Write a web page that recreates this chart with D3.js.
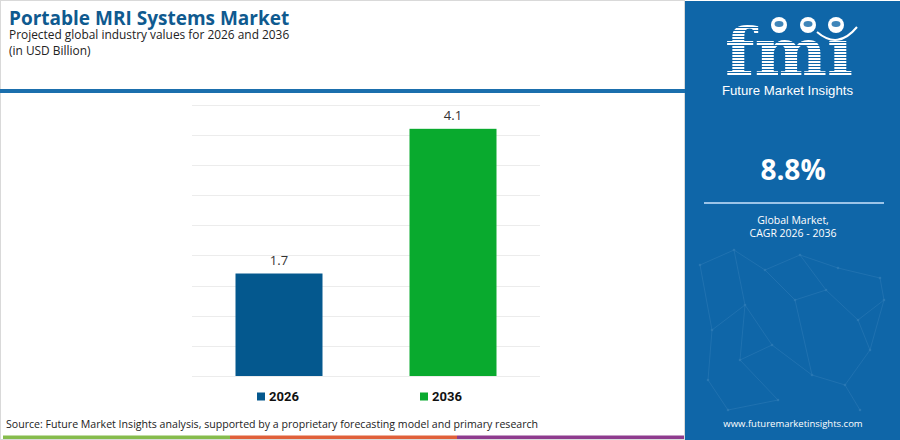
<!DOCTYPE html>
<html>
<head>
<meta charset="utf-8">
<script src="https://cdn.jsdelivr.net/npm/d3@7/dist/d3.min.js"></script>
<style>
  body { margin: 0; background: #fff; }
  svg { display: block; }
</style>
</head>
<body>
<div id="chart"></div>
<script>
// chart data
var years = ["2026", "2036"];
var values = [1.7, 4.1];
var barColors = ["#04588e", "#09aa2e"];
var yTicks = [0, 0.5, 1, 1.5, 2, 2.5, 3, 3.5, 4, 4.5];
var cagrValue = "8.8%";
var cagrLabel = ["Global Market,", "CAGR 2026 - 2036"];
var stripeColors = ["#86bc4c", "#e0603a", "#8e3b8e"];

function main()
{
    var W = 900, H = 440;
    var panel = "#0f66a8";
    var svg = d3.select("#chart").append("svg")
        .attr("width", W)
        .attr("height", H);

    //frame of the left part
    svg.append("rect").attr("x", 0.5).attr("y", 0.5).attr("width", 684).attr("height", H - 1)
        .attr("fill", "#fff").attr("stroke", "#d9d9d9");

    //title block
    svg.append("text").attr("x", 9).attr("y", 25)
        .style("font-family", "'Open Sans', sans-serif").style("font-weight", 700)
        .style("font-size", "19px").style("fill", "#0f5a8f")
        .text("Portable MRI Systems Market");
    svg.append("text").attr("x", 9).attr("y", 39)
        .style("font-family", "'Open Sans', sans-serif").style("font-size", "11.9px").style("fill", "#222")
        .text("Projected global industry values for 2026 and 2036");
    svg.append("text").attr("x", 9).attr("y", 55)
        .style("font-family", "'Open Sans', sans-serif").style("font-size", "11.9px").style("fill", "#222")
        .text("(in USD Billion)");

    //blue rule under header
    svg.append("rect").attr("x", 0).attr("y", 89).attr("width", 686).attr("height", 4).attr("fill", "#1b6fad");

    //scales
    var x = d3.scaleBand().domain(years).range([192, 540]).paddingInner(0.5).paddingOuter(0.25);
    var y = d3.scaleLinear().domain([0, 4.5]).range([376, 104.7]);

    //grid
    svg.append("g").selectAll("line").data(yTicks).enter().append("line")
        .attr("x1", 192).attr("x2", 540)
        .attr("y1", function(d) { return Math.round(y(d)) + 0.5; })
        .attr("y2", function(d) { return Math.round(y(d)) + 0.5; })
        .attr("stroke", "#ececec").attr("stroke-width", 1);

    //bars
    svg.append("g").selectAll("rect").data(values).enter().append("rect")
        .attr("x", function(d, i) { return x(years[i]); })
        .attr("y", function(d) { return y(d); })
        .attr("width", x.bandwidth())
        .attr("height", function(d) { return y(0) - y(d); })
        .attr("fill", function(d, i) { return barColors[i]; });

    //value labels
    svg.append("g").selectAll("text").data(values).enter().append("text")
        .attr("x", function(d, i) { return x(years[i]) + x.bandwidth() / 2; })
        .attr("y", function(d) { return y(d) - 9; })
        .attr("text-anchor", "middle")
        .style("font-family", "'Open Sans', sans-serif").style("font-size", "13px").style("fill", "#333")
        .text(function(d) { return d.toFixed(1); });

    //legend
    var legX = [257, 420];
    var leg = svg.append("g").selectAll("g").data(years).enter().append("g")
        .attr("transform", function(d, i) { return "translate(" + legX[i] + ",392.5)"; });
    leg.append("rect").attr("width", 8).attr("height", 8)
        .attr("fill", function(d, i) { return barColors[i]; });
    leg.append("text").attr("x", 12).attr("y", 8)
        .style("font-family", "Roboto, sans-serif").style("font-weight", 700)
        .style("font-size", "13px").style("fill", "#111")
        .text(function(d) { return d; });

    //source
    svg.append("text").attr("x", 6).attr("y", 428)
        .style("font-family", "'Open Sans', sans-serif").style("font-size", "10.6px").style("fill", "#222")
        .text("Source: Future Market Insights analysis, supported by a proprietary forecasting model and primary research");

    //bottom stripe
    svg.append("g").selectAll("rect").data(stripeColors).enter().append("rect")
        .attr("x", function(d, i) { return 3 + i * 227; })
        .attr("y", 435.5).attr("width", 227).attr("height", 3.5)
        .attr("fill", function(d) { return d; });

    //right panel
    var px = 685, pw = W - px, pc = 793;
    svg.append("rect").attr("x", px).attr("y", 1).attr("width", pw).attr("height", H - 1).attr("fill", panel);

    //faint network in the background
    var nodes = [[700,265],[734,250],[765,270],[800,255],[838,268],[880,278],[712,330],[745,305],[772,345],
                 [795,300],[826,290],[858,320],[884,300],[708,380],[740,360],[778,400],[812,375],[845,385],
                 [870,350],[728,410],[860,410]];
    var links = [[0,1],[1,2],[2,3],[3,4],[4,5],[0,6],[1,7],[7,8],[2,9],[9,10],[10,11],[11,12],[5,12],
                 [6,13],[7,14],[14,15],[8,16],[16,17],[17,18],[18,12],[13,19],[15,19],[17,20],[9,16],[3,10],[6,7],[14,8],[11,18]];
    var net = svg.append("g").attr("opacity", 0.13);
    net.selectAll("line").data(links).enter().append("line")
        .attr("x1", function(d) { return nodes[d[0]][0]; }).attr("y1", function(d) { return nodes[d[0]][1]; })
        .attr("x2", function(d) { return nodes[d[1]][0]; }).attr("y2", function(d) { return nodes[d[1]][1]; })
        .attr("stroke", "#bfe0ff").attr("stroke-width", 0.7);
    net.selectAll("circle").data(nodes).enter().append("circle")
        .attr("cx", function(d) { return d[0]; }).attr("cy", function(d) { return d[1]; })
        .attr("r", 1.3).attr("fill", "#cfe8ff");

    //logo
    var logo = svg.append("g");
    logo.append("text").attr("x", 725).attr("y", 75)
        .attr("textLength", 128).attr("lengthAdjust", "spacingAndGlyphs")
        .style("font-family", "'DejaVu Serif', serif").style("font-weight", 700)
        .style("font-size", "66px").style("fill", "#fff")
        .text("fmi");
    //hide the dot of the i, the globe takes its place
    logo.append("rect").attr("x", 820).attr("y", 18).attr("width", 34).attr("height", 22).attr("fill", panel);
    //stripes cut through the letters
    logo.append("g").selectAll("rect").data(d3.range(21, 77, 3)).enter().append("rect")
        .attr("x", 715).attr("y", function(d) { return d; }).attr("width", 150).attr("height", 1)
        .attr("fill", panel);
    //globes
    var globes = [779, 808, 836];
    logo.selectAll("circle.globe").data(globes).enter().append("circle")
        .attr("class", "globe").attr("cx", function(d) { return d; }).attr("cy", 25).attr("r", 8)
        .attr("fill", "#fff");
    logo.selectAll("ellipse").data(globes).enter().append("ellipse")
        .attr("cx", function(d) { return d; }).attr("cy", 24).attr("rx", 4.5).attr("ry", 3)
        .attr("fill", panel).attr("opacity", 0.8);
    logo.append("path").attr("d", "M817,32 Q838,50 857,27")
        .attr("fill", "none").attr("stroke", "#fff").attr("stroke-width", 2);

    svg.append("text").attr("x", 722).attr("y", 95)
        .attr("textLength", 131).attr("lengthAdjust", "spacingAndGlyphs")
        .style("font-family", "'Liberation Sans Narrow', 'Liberation Sans', sans-serif")
        .style("font-size", "13px").style("fill", "#fff")
        .text("Future Market Insights");

    //CAGR figure
    svg.append("text").attr("x", pc).attr("y", 180).attr("text-anchor", "middle")
        .style("font-family", "'Open Sans', sans-serif").style("font-weight", 700)
        .style("font-size", "28px").style("fill", "#fff")
        .text(cagrValue);
    svg.append("rect").attr("x", 704).attr("y", 202).attr("width", 180).attr("height", 2)
        .attr("fill", "#9cc4e8");
    svg.append("g").selectAll("text").data(cagrLabel).enter().append("text")
        .attr("x", pc).attr("y", function(d, i) { return 224 + i * 13; })
        .attr("text-anchor", "middle")
        .style("font-family", "'Open Sans', sans-serif").style("font-size", "10.5px").style("fill", "#fff")
        .text(function(d) { return d; });

    svg.append("text").attr("x", pc).attr("y", 427).attr("text-anchor", "middle")
        .style("font-family", "'Open Sans', sans-serif").style("font-size", "9.5px").style("fill", "#fff")
        .text("www.futuremarketinsights.com");
}
main();
</script>
</body>
</html>
